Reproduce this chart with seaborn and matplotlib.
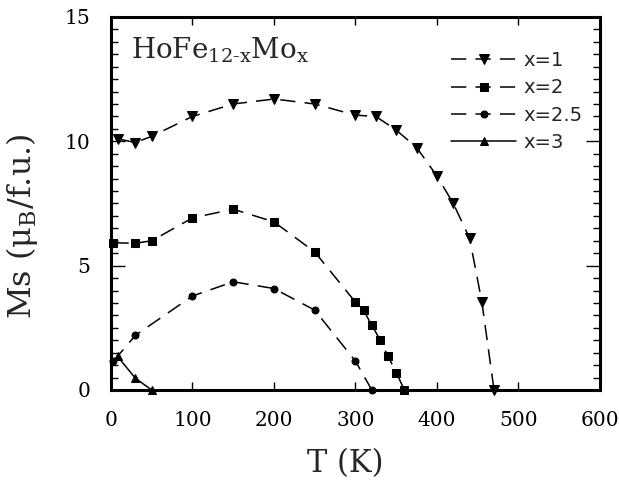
import numpy as np
import pandas as pd
import matplotlib
matplotlib.use("Agg")
import matplotlib.pyplot as plt
import seaborn as sns
from matplotlib.ticker import MultipleLocator

# data
t_x1 = [8, 30, 50, 100, 150, 200, 250, 300, 325, 350, 375, 400, 420, 440, 455, 470]
ms_x1 = [10.1, 9.95, 10.2, 11.0, 11.5, 11.7, 11.5, 11.05, 11.0, 10.45, 9.75, 8.6, 7.5, 6.1, 3.55, 0.0]

t_x2 = [3, 30, 50, 100, 150, 200, 250, 300, 310, 320, 330, 340, 350, 360]
ms_x2 = [5.92, 5.9, 6.0, 6.92, 7.27, 6.76, 5.55, 3.53, 3.2, 2.6, 2.03, 1.35, 0.7, 0.0]

t_x25 = [3, 30, 100, 150, 200, 250, 300, 320]
ms_x25 = [1.16, 2.2, 3.78, 4.35, 4.08, 3.21, 1.16, 0.0]

t_x3 = [8, 30, 50]
ms_x3 = [1.35, 0.47, 0.0]

labels = ["x=1", "x=2", "x=2.5", "x=3"]

sns.set_theme(style="ticks")
plt.rcParams["font.family"] = ["DejaVu Serif"]
plt.rcParams["mathtext.fontset"] = "dejavuserif"

fig = plt.figure(figsize=(6.19, 4.87), dpi=100)
ax = fig.add_axes([0.1793, 0.1992, 0.7900, 0.7660])

dash = (0, (10, 6))
series = [
    (t_x1, ms_x1, "v", 6.5, dash),
    (t_x2, ms_x2, "s", 5.5, dash),
    (t_x25, ms_x25, "o", 5, dash),
    (t_x3, ms_x3, "^", 6, "-"),
]
for (t, m, mk, ms, ls), lab in zip(series, labels):
    df = pd.DataFrame({"T": t, "Ms": m})
    sns.lineplot(data=df, x="T", y="Ms", ax=ax, color="black", marker=mk,
                 markersize=ms, markeredgecolor="black", linewidth=1.1,
                 linestyle=ls, label=lab, clip_on=False, zorder=3)

ax.set_xlim(0, 600)
ax.set_ylim(0, 15)
ax.xaxis.set_major_locator(MultipleLocator(100))
ax.yaxis.set_major_locator(MultipleLocator(5))
ax.yaxis.set_minor_locator(MultipleLocator(0.5))
ax.tick_params(axis="both", which="both", direction="in", top=True, right=True,
               labelsize=14.5, colors="black", pad=15)
ax.tick_params(axis="x", which="major", length=6, width=1)
ax.tick_params(axis="y", which="major", length=10, width=1)
ax.tick_params(axis="y", which="minor", length=5, width=1)
for s in ax.spines.values():
    s.set_linewidth(2.2)
    s.set_color("black")

ax.set_xlabel("T (K)", fontsize=22)
ax.set_ylabel("Ms (μ$_\\mathrm{B}$/f.u.)", fontsize=23)
ax.yaxis.set_label_coords(-0.145, 0.44)
ax.xaxis.set_label_coords(0.48, -0.155)

ax.text(0.04, 0.95, "HoFe$_\\mathrm{12\\text{-}x}$Mo$_\\mathrm{x}$", transform=ax.transAxes,
        fontsize=20, va="top", ha="left")

leg = ax.legend(loc="upper right", bbox_to_anchor=(1.0, 0.955), frameon=False,
                prop={"family": "DejaVu Sans", "size": 14},
                handlelength=3.3, handletextpad=0.4, labelspacing=0.42)

fig.savefig("out.png", dpi=100)
